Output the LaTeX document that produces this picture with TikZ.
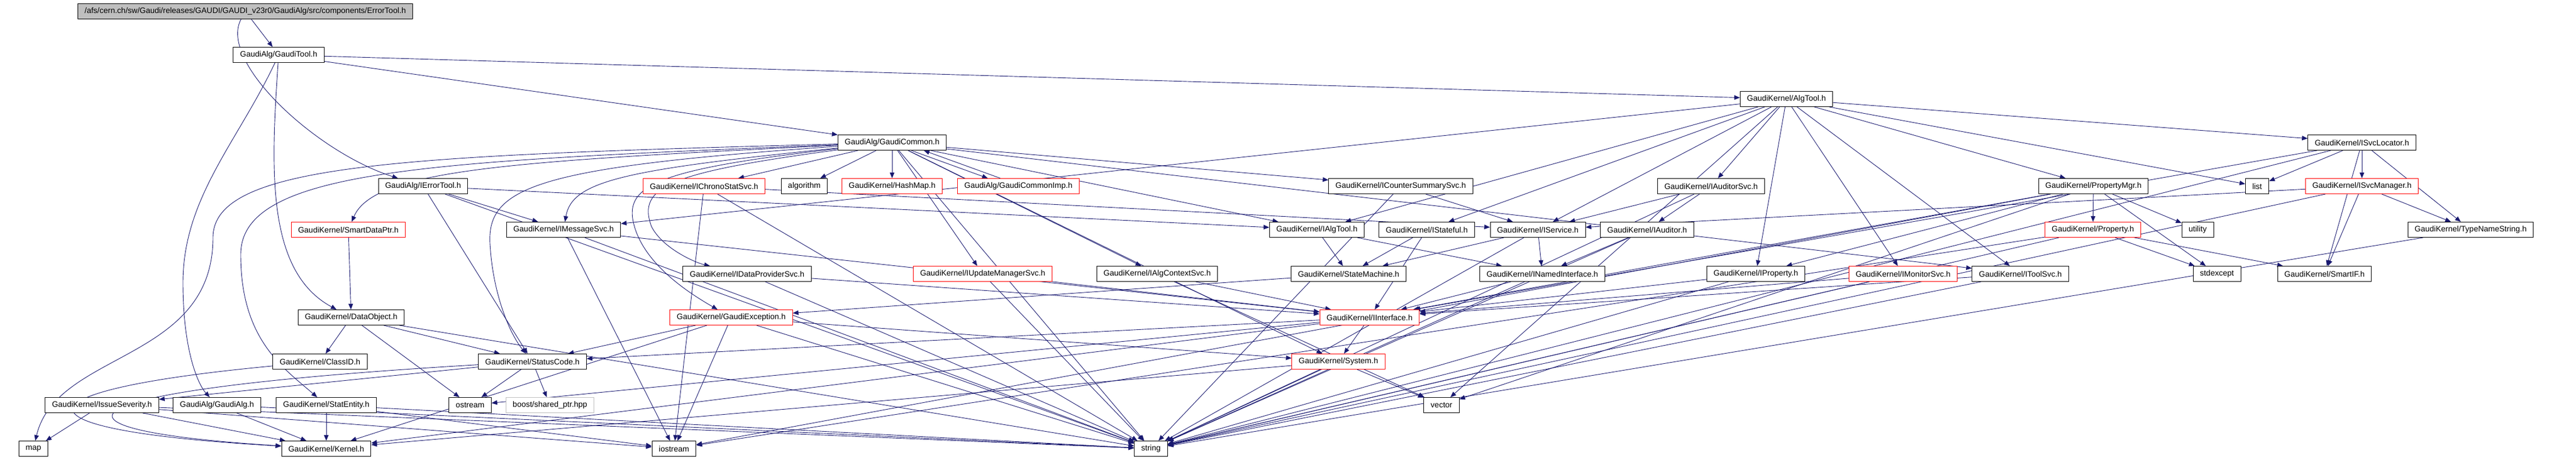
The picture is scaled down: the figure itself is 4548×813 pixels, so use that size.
\documentclass[tikz,border=0pt]{standalone}
\usepackage{fontspec}
\setmainfont{Liberation Sans}
\usetikzlibrary{arrows.meta, backgrounds}

\definecolor{depblue}{HTML}{191970}
\definecolor{hdrgray}{HTML}{BFBFBF}

\tikzset{
  hdr/.style={draw=black, fill=white, line width=0.5pt, inner xsep=6pt, inner ysep=0pt,
    minimum height=13.5pt, font=\fontsize{7}{8}\selectfont},
  hdrred/.style={hdr, draw=red},
  hdrsys/.style={hdr, draw=hdrgray},
  dep/.style={draw=depblue, line width=0.45pt, -{Triangle[length=5pt,width=4pt]}},
}

\begin{document}
\begin{tikzpicture}[x=0.5pt, y=-0.5pt]
  \useasboundingbox (0,0) rectangle (4548,813);

  \node[hdr, fill=hdrgray] (top) at (433,20) {/afs/cern.ch/sw/Gaudi/releases/GAUDI/GAUDI\_v23r0/GaudiAlg/src/components/ErrorTool.h};
  \node[hdr] (gtool) at (492,97) {GaudiAlg/GaudiTool.h};
  \node[hdr] (algtool) at (3154,175) {GaudiKernel/AlgTool.h};
  \node[hdr] (gcommon) at (1575,252) {GaudiAlg/GaudiCommon.h};
  \node[hdr] (svcloc) at (4170,252) {GaudiKernel/ISvcLocator.h};

  \node[hdr] (ierrortool) at (747,329) {GaudiAlg/IErrorTool.h};
  \node[hdrred] (ichrono) at (1243,329) {GaudiKernel/IChronoStatSvc.h};
  \node[hdr] (algorithm) at (1420,329) {algorithm};
  \node[hdrred] (hashmap) at (1575,329) {GaudiKernel/HashMap.h};
  \node[hdrred] (gcommonimp) at (1798,329) {GaudiAlg/GaudiCommonImp.h};
  \node[hdr] (icounter) at (2473,329) {GaudiKernel/ICounterSummarySvc.h};
  \node[hdr] (iauditorsvc) at (3021,329) {GaudiKernel/IAuditorSvc.h};
  \node[hdr] (propmgr) at (3696,329) {GaudiKernel/PropertyMgr.h};
  \node[hdr] (list) at (3985,329) {list};
  \node[hdrred] (isvcmgr) at (4170,329) {GaudiKernel/ISvcManager.h};

  \node[hdrred] (smartdataptr) at (615,406) {GaudiKernel/SmartDataPtr.h};
  \node[hdr] (imessagesvc) at (995,406) {GaudiKernel/IMessageSvc.h};
  \node[hdr] (ialgtool) at (2325,406) {GaudiKernel/IAlgTool.h};
  \node[hdr] (istateful) at (2519,406) {GaudiKernel/IStateful.h};
  \node[hdr] (iservice) at (2715,406) {GaudiKernel/IService.h};
  \node[hdr] (iauditor) at (2908,406) {GaudiKernel/IAuditor.h};
  \node[hdrred] (property) at (3695,406) {GaudiKernel/Property.h};
  \node[hdr] (utility) at (3880,406) {utility};
  \node[hdr] (typename) at (4362,406) {GaudiKernel/TypeNameString.h};

  \node[hdr] (idataprov) at (1319,484) {GaudiKernel/IDataProviderSvc.h};
  \node[hdrred] (iupdmgr) at (1735,484) {GaudiKernel/IUpdateManagerSvc.h};
  \node[hdr] (ialgctx) at (2043,484) {GaudiKernel/IAlgContextSvc.h};
  \node[hdr] (statemachine) at (2381,484) {GaudiKernel/StateMachine.h};
  \node[hdr] (inamedif) at (2723,484) {GaudiKernel/INamedInterface.h};
  \node[hdr] (iproperty) at (3100,484) {GaudiKernel/IProperty.h};
  \node[hdrred] (imonitor) at (3360,484) {GaudiKernel/IMonitorSvc.h};
  \node[hdr] (itoolsvc) at (3567,484) {GaudiKernel/IToolSvc.h};
  \node[hdr] (stdexcept) at (3914,484) {stdexcept};
  \node[hdr] (smartif) at (4104,484) {GaudiKernel/SmartIF.h};

  \node[hdr] (dataobject) at (620,561) {GaudiKernel/DataObject.h};
  \node[hdrred] (gexception) at (1291,561) {GaudiKernel/GaudiException.h};
  \node[hdrred] (iinterface) at (2418,561) {GaudiKernel/IInterface.h};

  \node[hdr] (classid) at (565,639) {GaudiKernel/ClassID.h};
  \node[hdr] (statuscode) at (940,639) {GaudiKernel/StatusCode.h};
  \node[hdrred] (system) at (2363,639) {GaudiKernel/System.h};

  \node[hdr] (issuesev) at (180,716) {GaudiKernel/IssueSeverity.h};
  \node[hdr] (gaudialg) at (383,716) {GaudiAlg/GaudiAlg.h};
  \node[hdr] (statentity) at (576,716) {GaudiKernel/StatEntity.h};
  \node[hdr] (ostream) at (830,716) {ostream};
  \node[hdrsys] (boost) at (971,716) {boost/shared\_ptr.hpp};
  \node[hdr] (vector) at (2545,716) {vector};

  \node[hdr] (map) at (59,793) {map};
  \node[hdr] (kernel) at (576,793) {GaudiKernel/Kernel.h};
  \node[hdr] (iostream) at (1190,793) {iostream};
  \node[hdr] (string) at (2032,793) {string};

  \begin{pgfonlayer}{background}
  \foreach \a/\b in {top/gtool, gtool/algtool, gtool/gcommon,
      gcommon/ichrono, gcommon/algorithm, gcommon/hashmap, gcommon/iupdmgr,
      gcommon/ialgctx, gcommon/ialgtool, gcommon/icounter, gcommon/string, gcommon/system,
      gcommon/itoolsvc,
      ierrortool/ialgtool, ierrortool/imessagesvc, ierrortool/statuscode, ierrortool/string,
      algtool/imessagesvc, algtool/ialgtool, algtool/istateful, algtool/iservice,
      algtool/iauditorsvc, algtool/iproperty, algtool/imonitor, algtool/itoolsvc,
      algtool/propmgr, algtool/list, algtool/svcloc, algtool/vector,
      svcloc/list, svcloc/isvcmgr, svcloc/typename, svcloc/smartif, svcloc/iinterface, svcloc/string,
      isvcmgr/typename, isvcmgr/smartif, isvcmgr/iservice, isvcmgr/string,
      typename/string,
      propmgr/property, propmgr/utility, propmgr/stdexcept, propmgr/iproperty, propmgr/vector,
      propmgr/iinterface, propmgr/iostream,
      property/stdexcept, property/smartif, property/string, property/iostream,
      iproperty/iinterface, iproperty/string, imonitor/iinterface, imonitor/string,
      itoolsvc/iinterface, itoolsvc/string,
      iauditorsvc/iservice, iauditorsvc/iauditor, iauditorsvc/string,
      iauditor/inamedif, iauditor/string,
      iservice/inamedif, iservice/statemachine, iservice/string,
      istateful/statemachine, istateful/iinterface,
      ialgtool/inamedif, ialgtool/statemachine,
      inamedif/iinterface, inamedif/string,
      statemachine/gexception,
      iinterface/system, iinterface/statuscode, iinterface/kernel, iinterface/ostream,
      system/vector, system/kernel, system/string,
      gexception/statuscode, gexception/system, gexception/iostream, gexception/string, gexception/kernel,
      statuscode/ostream, statuscode/boost, statuscode/issuesev,
      issuesev/map, issuesev/kernel, issuesev/string, issuesev/iostream,
      gaudialg/kernel, gaudialg/string,
      statentity/kernel, statentity/string, statentity/iostream,
      dataobject/classid, dataobject/statuscode, dataobject/ostream, dataobject/string,
      smartdataptr/dataobject,
      imessagesvc/iinterface, imessagesvc/string, imessagesvc/iostream,
      ichrono/iservice, ichrono/iostream, ichrono/string,
      idataprov/iinterface, idataprov/string, iupdmgr/iinterface, iupdmgr/string,
      ialgctx/iinterface, ialgctx/vector,
      icounter/iservice, icounter/string}
    \draw[dep] (\a) -- (\b);

  \draw[dep] (top) .. controls (385,110) and (560,270) .. (ierrortool);
  \draw[dep] (gtool) .. controls (420,250) and (323,350) .. (323,500) .. controls (323,620) and (350,680) .. (gaudialg);
  \draw[dep] (gtool) .. controls (478,300) and (470,480) .. (dataobject);
  \draw[dep] (gcommon) .. controls (700,275) and (376,290) .. (376,420) .. controls (376,640) and (100,620) .. (map);
  \draw[dep] (gcommon) .. controls (750,285) and (425,300) .. (425,450) .. controls (425,600) and (500,650) .. (statentity);
  \draw[dep] (gcommon) .. controls (900,285) and (660,300) .. (smartdataptr);
  \draw[dep] (gcommon) .. controls (950,295) and (860,330) .. (865,430) .. controls (870,520) and (900,590) .. (statuscode);
  \draw[dep] (gcommon) .. controls (1100,300) and (1010,320) .. (imessagesvc);
  \draw[dep] (gcommon) .. controls (1150,300) and (1100,330) .. (1120,400) .. controls (1140,470) and (1220,520) .. (gexception);
  \draw[dep] (gcommon) .. controls (1180,305) and (1125,330) .. (1150,400) .. controls (1170,440) and (1230,465) .. (idataprov);
  \draw[dep] (classid) .. controls (20,690) and (0,760) .. (kernel);
  \draw[dep] (statuscode) .. controls (70,690) and (45,760) .. (kernel);
  \draw[dep] ([xshift=17pt]gcommon.south) -- ([xshift=-27pt]gcommonimp.north);
  \draw[dep] ([xshift=-16pt]gcommonimp.north) -- ([xshift=28pt]gcommon.south);
  \end{pgfonlayer}
\end{tikzpicture}
\end{document}
